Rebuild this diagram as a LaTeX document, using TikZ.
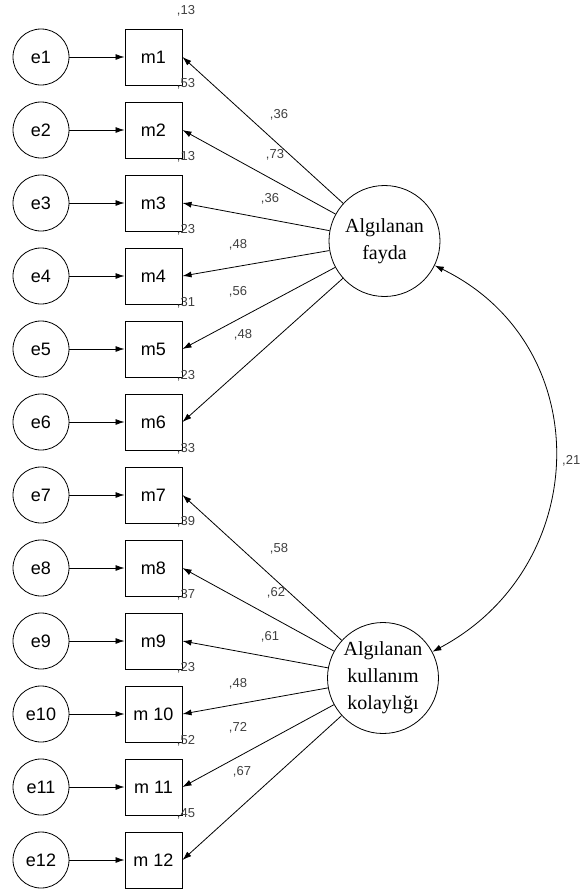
\documentclass[tikz,border=0pt]{standalone}
\usepackage{fontspec}
\setmainfont{Liberation Serif}
\setsansfont{Liberation Sans}
\usetikzlibrary{arrows.meta}
\begin{document}
\begin{tikzpicture}[x=1pt,y=-1pt,
  errc/.style={circle,draw,line width=0.8pt,minimum size=56pt,inner sep=0pt,font=\sffamily\fontsize{18}{20}\selectfont},
  obs/.style={rectangle,draw,line width=1pt,minimum width=57pt,minimum height=56pt,inner sep=0pt,font=\sffamily\fontsize{18}{20}\selectfont},
  lat/.style={circle,draw,line width=0.8pt,minimum size=111pt,inner sep=0pt,align=center,font=\rmfamily\fontsize{20}{27}\selectfont},
  arr/.style={-{Latex[length=9pt,width=6pt]},line width=0.8pt},
  arrb/.style={{Latex[length=9pt,width=6pt]}-{Latex[length=9pt,width=6pt]},line width=0.8pt},
  lbl/.style={font=\sffamily\fontsize{13}{15}\selectfont,text=black!75,inner sep=0pt}]
\useasboundingbox (0,0) rectangle (582,892);

% error terms
\node[errc] (e1)  at (41,57)  {e1};
\node[errc] (e2)  at (41,130) {e2};
\node[errc] (e3)  at (41,203) {e3};
\node[errc] (e4)  at (41,276) {e4};
\node[errc] (e5)  at (41,349) {e5};
\node[errc] (e6)  at (41,422) {e6};
\node[errc] (e7)  at (41,495) {e7};
\node[errc] (e8)  at (41,568) {e8};
\node[errc] (e9)  at (41,641) {e9};
\node[errc] (e10) at (41,714) {e10};
\node[errc] (e11) at (41,787) {e11};
\node[errc] (e12) at (41,860) {e12};

% observed
\node[obs] (m1)  at (153.5,57)  {m1};
\node[obs] (m2)  at (153.5,130) {m2};
\node[obs] (m3)  at (153.5,203) {m3};
\node[obs] (m4)  at (153.5,276) {m4};
\node[obs] (m5)  at (153.5,349) {m5};
\node[obs] (m6)  at (153.5,422) {m6};
\node[obs] (m7)  at (153.5,495) {m7};
\node[obs] (m8)  at (153.5,568) {m8};
\node[obs] (m9)  at (153.5,641) {m9};
\node[obs] (m10) at (153.5,714) {m 10};
\node[obs] (m11) at (153.5,787) {m 11};
\node[obs] (m12) at (153.5,860) {m 12};

% latent
\node[lat] (F1) at (384.5,241) {Algılanan\\fayda};
\node[lat] (F2) at (383,678) {Algılanan\\kullanım\\kolaylığı};

% error arrows
\foreach \i in {1,...,12} {\draw[arr] (e\i) -- (m\i);}

% loadings
\foreach \i in {1,...,6} {\draw[arr] (F1) -- (m\i.east);}
\foreach \i in {7,...,12} {\draw[arr] (F2) -- (m\i.east);}

% covariance
\draw[arrb] (F1) to[out=-26,in=28,looseness=1.2] (F2);
\node[lbl,anchor=west] (c21) at (562,461) {,21};

% R2 labels
\node[lbl] (r1)  at (186,11)  {,13};
\node[lbl] (r2)  at (186,84)  {,53};
\node[lbl] (r3)  at (186,157) {,13};
\node[lbl] (r4)  at (186,230) {,23};
\node[lbl] (r5)  at (186,303) {,31};
\node[lbl] (r6)  at (186,376) {,23};
\node[lbl] (r7)  at (186,449) {,33};
\node[lbl] (r8)  at (186,522) {,39};
\node[lbl] (r9)  at (186,595) {,37};
\node[lbl] (r10) at (186,668) {,23};
\node[lbl] (r11) at (186,741) {,52};
\node[lbl] (r12) at (186,814) {,45};

% loading labels
\node[lbl] (l1)  at (279,115) {,36};
\node[lbl] (l2)  at (275,155) {,73};
\node[lbl] (l3)  at (270,199) {,36};
\node[lbl] (l4)  at (238,245) {,48};
\node[lbl] (l5)  at (238,292) {,56};
\node[lbl] (l6)  at (243,335) {,48};
\node[lbl] (l7)  at (279,549) {,58};
\node[lbl] (l8)  at (276,593) {,62};
\node[lbl] (l9)  at (270,637) {,61};
\node[lbl] (l10) at (238,684) {,48};
\node[lbl] (l11) at (238,728) {,72};
\node[lbl] (l12) at (242,772) {,67};
\end{tikzpicture}
\end{document}
